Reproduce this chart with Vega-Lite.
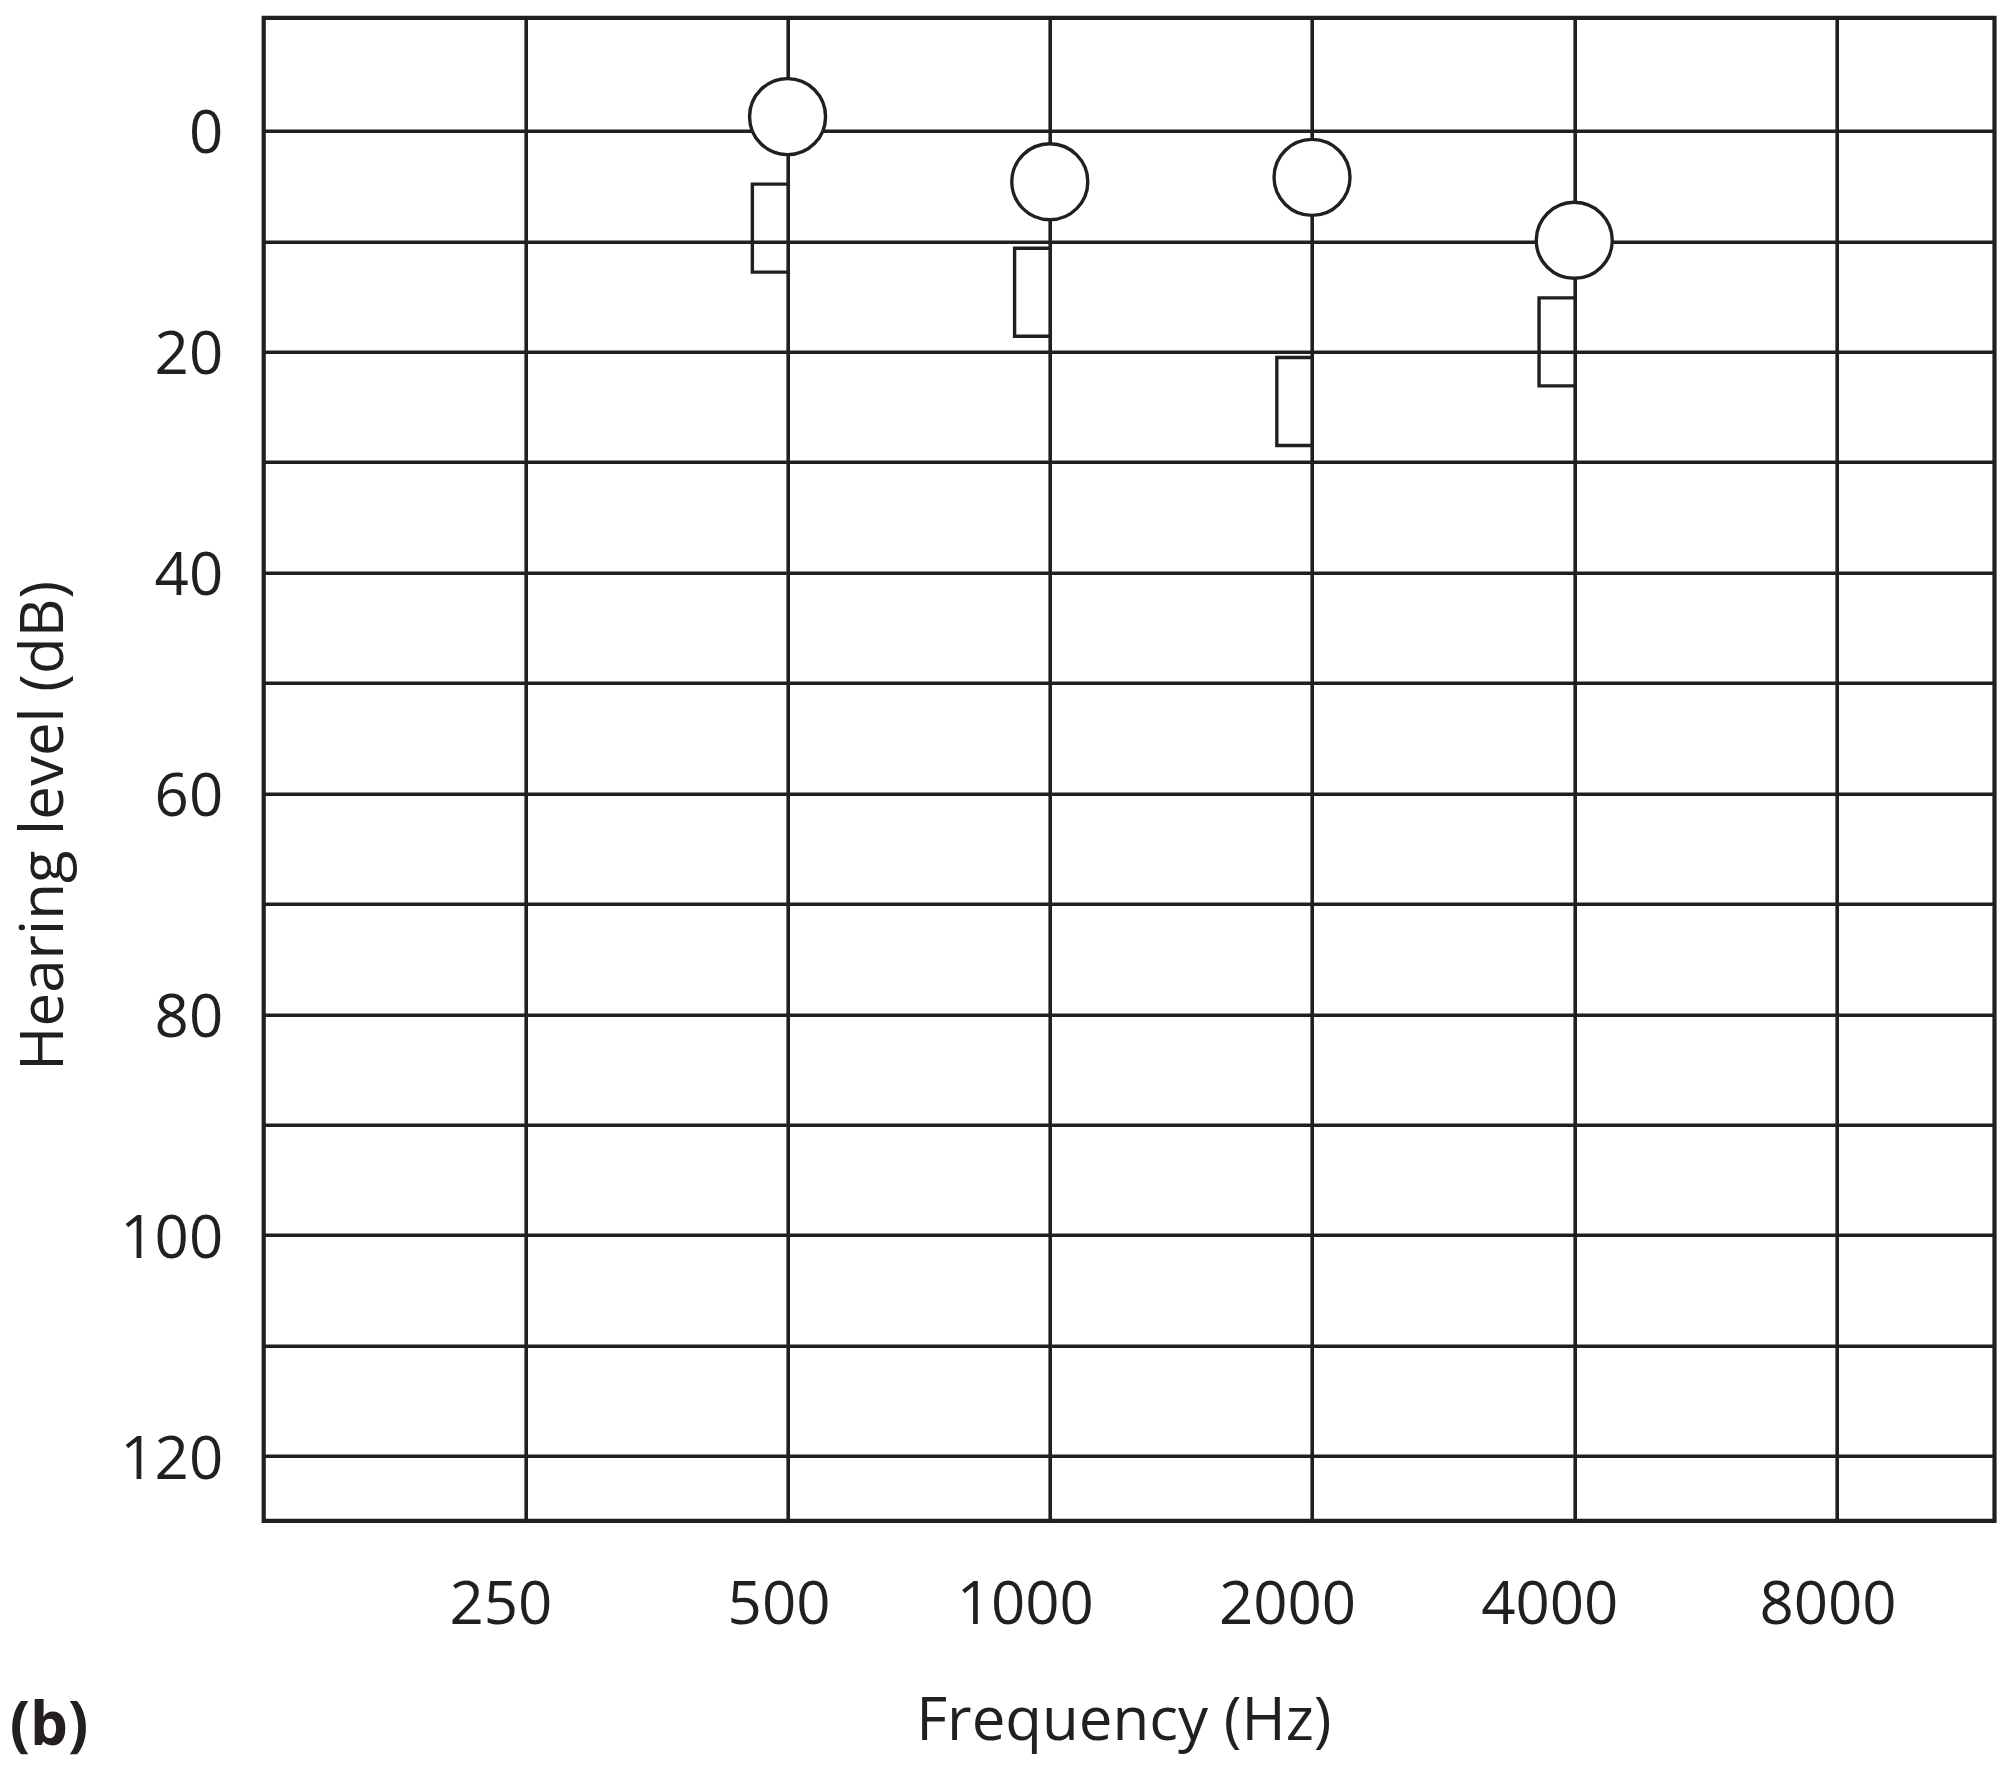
{
  "$schema": "https://vega.github.io/schema/vega-lite/v6.json",
  "autosize": "none",
  "padding": {"left": 263.7, "top": 17.8, "right": 9.5, "bottom": 246.2},
  "width": 1730.8,
  "height": 1503,
  "background": "white",
  "config": {
    "view": {"stroke": "#231f20", "strokeWidth": 4.2},
    "font": "Open Sans"
  },
  "title": {
    "text": "(b)",
    "orient": "bottom",
    "anchor": "start",
    "frame": "group",
    "font": "Open Sans",
    "fontSize": 60,
    "fontWeight": "bold",
    "color": "#231f20",
    "baseline": "alphabetic",
    "offset": 0,
    "dx": -254,
    "dy": -6
  },
  "data": {
    "values": [
      {"freq": 500, "db": -1.3, "type": "air"},
      {"freq": 1000, "db": 4.6, "type": "air"},
      {"freq": 2000, "db": 4.2, "type": "air"},
      {"freq": 4000, "db": 9.9, "type": "air"},
      {"freq": 500, "db": 8.8, "type": "bone"},
      {"freq": 1000, "db": 14.6, "type": "bone"},
      {"freq": 2000, "db": 24.5, "type": "bone"},
      {"freq": 4000, "db": 19.1, "type": "bone"}
    ]
  },
  "encoding": {
    "x": {
      "field": "freq",
      "type": "quantitative",
      "scale": {"type": "log", "domain": [125.2, 12147], "nice": false, "zero": false},
      "axis": {
        "values": [250, 500, 1000, 2000, 4000, 8000],
        "format": "d",
        "grid": true,
        "gridColor": "#231f20",
        "gridWidth": 3.6,
        "gridOpacity": 1,
        "domain": false,
        "ticks": false,
        "tickSize": 0,
        "labelFont": "Open Sans",
        "labelFontSize": 60,
        "labelColor": "#231f20",
        "labelBaseline": "alphabetic",
        "labelPadding": 103,
        "labelOffset": {"condition": {"test": "datum.value == 500 || datum.value == 8000", "value": -9}, "value": -25},
        "labelFlush": false,
        "labelOverlap": false,
        "title": "Frequency (Hz)",
        "titleFont": "Open Sans",
        "titleFontSize": 60,
        "titleFontWeight": "normal",
        "titleColor": "#231f20",
        "titleBaseline": "alphabetic",
        "titleAlign": "center",
        "titleX": 859.6,
        "titleY": 218.5
      }
    },
    "y": {
      "field": "db",
      "type": "quantitative",
      "scale": {"domain": [-10.25, 125.86], "reverse": true, "nice": false, "zero": false},
      "axis": {
        "values": [0, 10, 20, 30, 40, 50, 60, 70, 80, 90, 100, 110, 120],
        "labelExpr": "datum.value % 20 == 0 ? datum.label : ''",
        "grid": true,
        "gridColor": "#231f20",
        "gridWidth": 3.6,
        "gridOpacity": 1,
        "domain": false,
        "ticks": false,
        "tickSize": 0,
        "labelFont": "Open Sans",
        "labelFontSize": 60,
        "labelColor": "#231f20",
        "labelAlign": "right",
        "labelBaseline": "alphabetic",
        "labelOffset": 22,
        "labelPadding": 41,
        "labelFlush": false,
        "labelOverlap": false,
        "title": "Hearing level (dB)",
        "titleFont": "Open Sans",
        "titleFontSize": 60,
        "titleFontWeight": "normal",
        "titleColor": "#231f20",
        "titleAngle": -90,
        "titleBaseline": "middle",
        "titleAlign": "center",
        "titleX": -219.3,
        "titleY": 807.5
      }
    }
  },
  "layer": [
    {
      "transform": [{"filter": "datum.type == 'bone'"}],
      "mark": {
        "type": "point",
        "shape": "M0,-1L-0.8,-1L-0.8,1L0,1",
        "size": 7744,
        "filled": false,
        "color": "#231f20",
        "strokeWidth": 3.4,
        "opacity": 1
      }
    },
    {
      "transform": [{"filter": "datum.type == 'air'"}],
      "mark": {
        "type": "point",
        "shape": "circle",
        "size": 5776,
        "filled": true,
        "fill": "white",
        "stroke": "#231f20",
        "strokeWidth": 3.4,
        "opacity": 1,
        "fillOpacity": 1,
        "strokeOpacity": 1
      }
    }
  ]
}
